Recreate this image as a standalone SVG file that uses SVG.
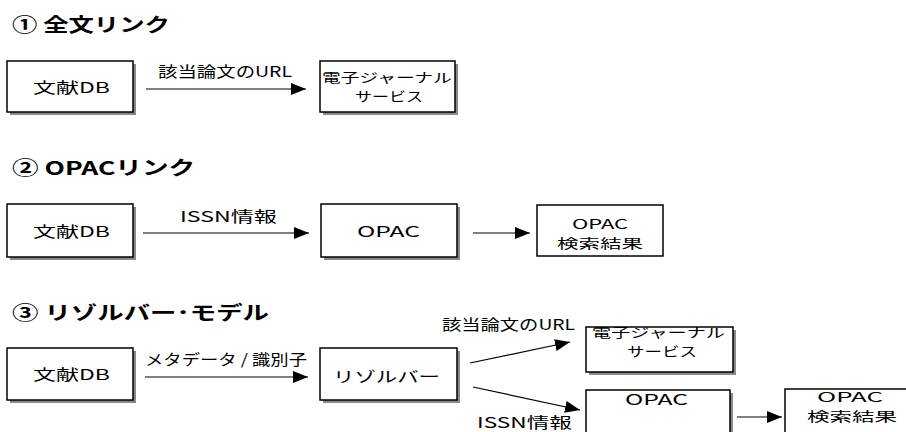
<svg xmlns="http://www.w3.org/2000/svg" width="906" height="432" viewBox="0 0 906 432">
<defs>
<marker id="ah" markerUnits="userSpaceOnUse" markerWidth="16" markerHeight="12" refX="15" refY="6" orient="auto">
<path d="M0,0 L15,6 L0,12 Z" fill="#000"/>
</marker>
</defs>
<style>
.t{font-family:"Noto Sans CJK JP","Noto Sans",sans-serif;font-weight:bold;font-size:19px;fill:#000}
.x{font-family:"Noto Sans CJK JP","Liberation Sans",sans-serif;font-size:15px;fill:#000}
.s{font-size:13px}
.box{fill:#fff;stroke:#000;stroke-width:1.5}
.sh{fill:#8a8a8a}
.c{stroke:#000;stroke-width:1.2;fill:none;marker-end:url(#ah)}
</style>
<rect width="906" height="432" fill="#fff"/>

<g id="titles">
<text class="t" x="12" y="32" textLength="158" lengthAdjust="spacingAndGlyphs">① 全文リンク</text>
<text class="t" x="12" y="175" textLength="183" lengthAdjust="spacingAndGlyphs">② OPACリンク</text>
<text class="t" x="12" y="320" textLength="257" lengthAdjust="spacingAndGlyphs">③ リゾルバー･モデル</text>
</g>

<!-- Section 1 -->
<g id="s1-db">
<rect class="sh" x="10" y="64" width="126" height="51"/>
<rect class="box" x="7" y="61" width="126" height="51"/>
<text class="x" x="33" y="93" textLength="77" lengthAdjust="spacingAndGlyphs">文献DB</text>
</g>
<g id="s1-ej">
<rect class="sh" x="323" y="64" width="135" height="51"/>
<rect class="box" x="320" y="61" width="135" height="51"/>
<text class="x s" x="322" y="82" textLength="130" lengthAdjust="spacingAndGlyphs">電子ジャーナル</text>
<text class="x s" x="355" y="101" textLength="68" lengthAdjust="spacingAndGlyphs">サービス</text>
</g>

<!-- Section 2 -->
<g id="s2-db">
<rect class="sh" x="10" y="207" width="126" height="53"/>
<rect class="box" x="7" y="204" width="126" height="53"/>
<text class="x" x="33" y="237" textLength="77" lengthAdjust="spacingAndGlyphs">文献DB</text>
</g>
<g id="s2-opac">
<rect class="sh" x="324" y="207" width="136" height="53"/>
<rect class="box" x="321" y="204" width="136" height="53"/>
<text class="x" x="357" y="237" textLength="63" lengthAdjust="spacingAndGlyphs">OPAC</text>
</g>
<g id="s2-res">
<rect class="box" x="537" y="205" width="126" height="51"/>
<text class="x s" x="572" y="229" textLength="56" lengthAdjust="spacingAndGlyphs">OPAC</text>
<text class="x s" x="557" y="248" textLength="86" lengthAdjust="spacingAndGlyphs">検索結果</text>
</g>

<!-- Section 3 -->
<g id="s3-db">
<rect class="sh" x="10" y="351" width="126" height="52"/>
<rect class="box" x="7" y="348" width="126" height="52"/>
<text class="x" x="33" y="380" textLength="77" lengthAdjust="spacingAndGlyphs">文献DB</text>
</g>
<g id="s3-resolver">
<rect class="sh" x="323" y="351" width="137" height="52"/>
<rect class="box" x="320" y="348" width="137" height="52"/>
<text class="x" x="333" y="382" textLength="107" lengthAdjust="spacingAndGlyphs">リゾルバー</text>
</g>
<g id="s3-ej">
<rect class="sh" x="589" y="330" width="147" height="45"/>
<rect class="box" x="586" y="327" width="147" height="45"/>
<text class="x s" x="592" y="337" textLength="133" lengthAdjust="spacingAndGlyphs">電子ジャーナル</text>
<text class="x s" x="627" y="356" textLength="70" lengthAdjust="spacingAndGlyphs">サービス</text>
</g>
<g id="s3-opac">
<rect class="sh" x="589" y="393" width="144" height="50"/>
<rect class="box" x="586" y="390" width="144" height="50"/>
<text class="x" x="625" y="405" textLength="63" lengthAdjust="spacingAndGlyphs">OPAC</text>
</g>
<g id="s3-res">
<rect class="box" x="785" y="389" width="130" height="50"/>
<text class="x s" x="817" y="402" textLength="66" lengthAdjust="spacingAndGlyphs">OPAC</text>
<text class="x s" x="807" y="421" textLength="90" lengthAdjust="spacingAndGlyphs">検索結果</text>
</g>

<g id="connectors">
<line class="c" x1="146" y1="89" x2="306" y2="89"/>
<text class="x" x="158" y="77" textLength="134" lengthAdjust="spacingAndGlyphs">該当論文のURL</text>

<line class="c" x1="143" y1="233" x2="309" y2="233"/>
<text class="x" x="180" y="222" textLength="97" lengthAdjust="spacingAndGlyphs">ISSN情報</text>
<line class="c" x1="473" y1="233" x2="530" y2="233"/>

<line class="c" x1="145" y1="377" x2="308" y2="377"/>
<text class="x" x="145" y="365" textLength="162" lengthAdjust="spacingAndGlyphs">メタデータ / 識別子</text>
<line class="c" x1="470" y1="363" x2="570" y2="342"/>
<text class="x" x="442" y="330" textLength="133" lengthAdjust="spacingAndGlyphs">該当論文のURL</text>
<line class="c" x1="473" y1="387" x2="580" y2="410"/>
<text class="x" x="477" y="428" textLength="95" lengthAdjust="spacingAndGlyphs">ISSN情報</text>
<line class="c" x1="737" y1="417" x2="782" y2="417"/>
</g>
</svg>
